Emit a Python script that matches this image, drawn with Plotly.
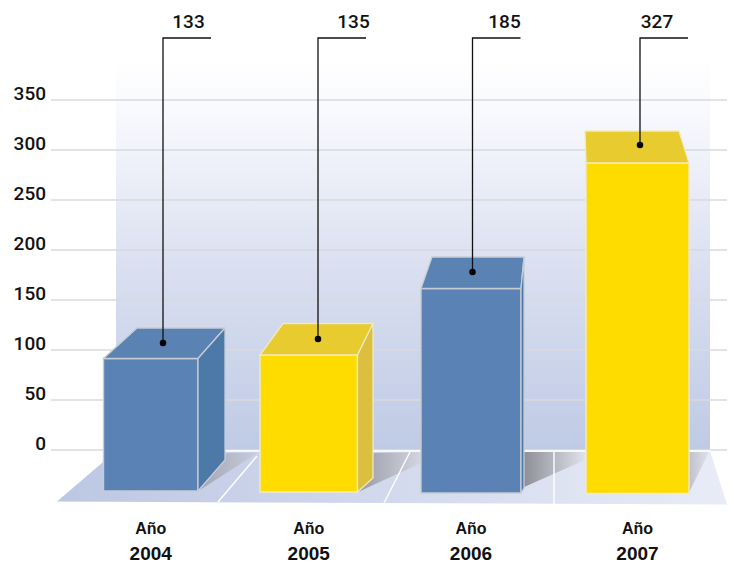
import plotly.graph_objects as go

# ---- data ----
years = ["2004", "2005", "2006", "2007"]
labels = [133, 135, 185, 327]                # printed values
front_top = [91.5, 95, 161.5, 287]           # top of the front face on the axis
front_base = [-41, -42, -43, -43.5]          # foot of the front face on the axis
back_top = [122, 126.5, 193, 319]            # back edge of the top face on the axis
side_foot = [-10, -28, -38, -43.5]           # foot of the side face on the axis
y_ticks = [0, 50, 100, 150, 200, 250, 300, 350]

# ---- layout of the fake 3D scene ----
W, H = 734, 563
X0, X1 = 50, 727
AXIS_PX = 513
ZERO_PX = 450
front_left = [103.5, 260, 421, 586]
front_right = [198, 357.5, 521, 689]
back_left = [137, 283, 432, 585]
back_right = [225, 373, 524, 679]
leader_x = [163, 318, 472.5, 640]
dot_y = [107, 111, 178, 305]
LEADER_Y = 412
LEADER_LEN = 48
label_x = [188.5, 353.5, 504.5, 657]
label_y = 426.5

BLUE = dict(front="#5b82b5", top="#5a82b3", side="#4d79a8", edge="#c6ccd4")
YEL = dict(front="#ffdc00", top="#e8cb2e", side="#dcbf3f", edge="#efeac4")
palette = [BLUE, YEL, BLUE, YEL]

fig = go.Figure()


def poly(xs, ys, **kw):
    fig.add_trace(go.Scatter(x=xs, y=ys, mode="lines", fill="toself",
                             line=dict(width=0), hoverinfo="skip",
                             showlegend=False, **kw))


def hgrad(c0, c1):
    return dict(type="horizontal", colorscale=[[0, c0], [1, c1]])


# back wall
poly([116, 710, 710, 116], [0, 0, 395, 395],
     fillgradient=dict(type="vertical",
                       colorscale=[[0, "#bfcae5"], [0.45, "#d9dff0"],
                                   [0.85, "#f8f9fd"], [1, "#ffffff"]]))
# grid lines
gx, gy = [], []
for t in y_ticks:
    gx += [X0 + 1, X1, None]
    gy += [t, t, None]
fig.add_trace(go.Scatter(x=gx, y=gy, mode="lines", hoverinfo="skip", showlegend=False,
                         line=dict(color="#d8dade", width=1.4)))
# floor
poly([57, 727, 710, 116], [-51.5, -54.5, -1, -1],
     fillgradient=hgrad("#bcc7e3", "#e9ecf7"))
# shadows
poly([200, 227, 257], [-40, -3, -3], fillgradient=hgrad("#a3a6b3", "#c8ccdc"))
poly([358, 373, 421, 421], [-42, -3, -2, -13], fillgradient=hgrad("#989ba6", "#d3d6e1"))
poly([522, 522, 585, 585], [-38, -2, -2, -10], fillgradient=hgrad("#8b8c95", "#dfe2ea"))
poly([689, 689, 709], [-42.5, -2, -2], fillgradient=hgrad("#bfc2cc", "#e0e2ea"))
# floor dividers and rear edge
for xs, ys in [([218, 257], [-52, -6]), ([384, 410], [-53, -2]),
               ([554, 554], [-54, -2]), ([116, 710], [-1, -1])]:
    fig.add_trace(go.Scatter(x=xs, y=ys, mode="lines", hoverinfo="skip", showlegend=False,
                             line=dict(color="#ffffff", width=1.4)))

# overlay: bars
ov = dict(xaxis="x2", yaxis="y2")
centers = [(a + b) / 2 for a, b in zip(front_left, front_right)]
widths = [b - a for a, b in zip(front_left, front_right)]
heights = [t - b for t, b in zip(front_top, front_base)]
fig.add_trace(go.Bar(x=centers, y=heights, base=front_base, width=widths,
                     marker=dict(color=[p["front"] for p in palette],
                                 line=dict(color=[p["edge"] for p in palette], width=1.4)),
                     hoverinfo="skip", showlegend=False, **ov))
for i, p in enumerate(palette):
    # top face
    fig.add_trace(go.Scatter(
        x=[front_left[i], front_right[i], back_right[i], back_left[i], front_left[i]],
        y=[front_top[i], front_top[i], back_top[i], back_top[i], front_top[i]],
        mode="lines", fill="toself", fillcolor=p["top"],
        line=dict(color=p["edge"], width=1.3), hoverinfo="skip", showlegend=False, **ov))
    # side face
    if back_right[i] > front_right[i]:
        fig.add_trace(go.Scatter(
            x=[front_right[i], back_right[i], back_right[i], front_right[i], front_right[i]],
            y=[front_top[i], back_top[i], side_foot[i], front_base[i], front_top[i]],
            mode="lines", fill="toself", fillcolor=p["side"],
            line=dict(color=p["edge"], width=1.3), hoverinfo="skip", showlegend=False, **ov))
    # leader
    fig.add_trace(go.Scatter(
        x=[leader_x[i], leader_x[i], leader_x[i] + LEADER_LEN],
        y=[dot_y[i], LEADER_Y, LEADER_Y], mode="lines",
        line=dict(color="#111111", width=1.3), hoverinfo="skip", showlegend=False, **ov))

fig.add_trace(go.Scatter(x=leader_x, y=dot_y, mode="markers",
                         marker=dict(color="#000000", size=6.5),
                         hoverinfo="skip", showlegend=False, **ov))
fig.add_trace(go.Scatter(x=label_x, y=[label_y] * 4, mode="text",
                         text=[str(v) for v in labels], textposition="middle center",
                         textfont=dict(family="Roboto", size=19, color="#111111", weight=500),
                         hoverinfo="skip", showlegend=False, **ov))

xr = [X0, X1]
yr = [ZERO_PX - AXIS_PX, ZERO_PX]
dx = [X0 / W, X1 / W]
dy = [(H - AXIS_PX) / H, 1]
tick_text = [f"<span style='font-size:16px'>Año</span><br><span style='font-size:19px'>{y}</span>"
             for y in years]

fig.update_layout(
    width=W, height=H, margin=dict(l=0, r=0, t=0, b=0),
    plot_bgcolor="#ffffff", paper_bgcolor="#ffffff",
    hovermode=False, showlegend=False,
    xaxis=dict(domain=dx, range=xr, showgrid=False, zeroline=False, showline=False,
               automargin=False,
               tickmode="array", tickvals=centers, ticktext=tick_text, ticks="",
               ticklabelstandoff=0,
               tickfont=dict(family="Liberation Sans", size=20, color="#111111", weight="bold")),
    yaxis=dict(domain=dy, range=yr, showgrid=False, zeroline=False, showline=False,
               automargin=False,
               tickmode="array", tickvals=y_ticks, ticks="",
               ticklabelshift=-7, ticklabelstandoff=3,
               tickfont=dict(family="Roboto", size=19, color="#111111", weight=500)),
    xaxis2=dict(domain=dx, range=xr, overlaying="x", visible=False, anchor="y2"),
    yaxis2=dict(domain=dy, range=yr, overlaying="y", visible=False, anchor="x2"),
)
fig.write_html("out.html", config=dict(displayModeBar=False),
               post_script="document.body.style.margin='0';document.documentElement.style.overflow='hidden';")
